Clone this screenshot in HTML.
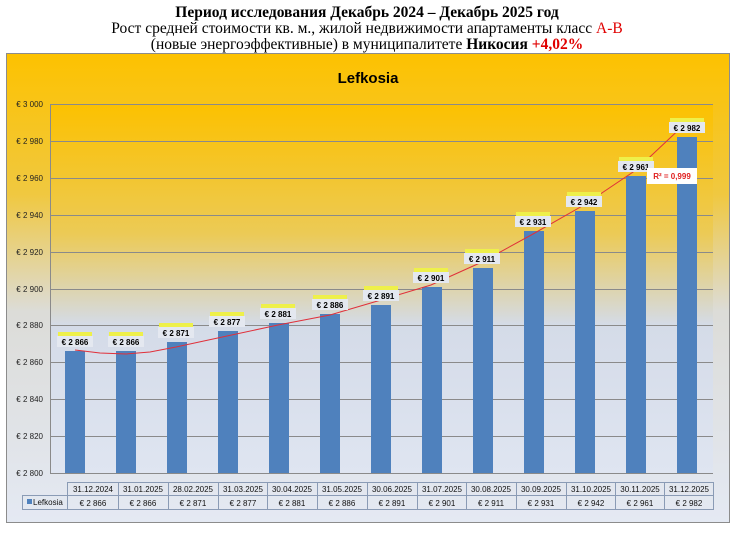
<!DOCTYPE html>
<html><head><meta charset="utf-8"><style>
body{margin:0;background:#fff;width:736px;height:538px;overflow:hidden}
svg{display:block}
</style></head><body>
<svg width="736" height="538" xmlns="http://www.w3.org/2000/svg">
<defs>
<linearGradient id="bg" x1="0" y1="0" x2="0" y2="1">
<stop offset="0" stop-color="#fdc200"/>
<stop offset="0.3" stop-color="#f0c840"/>
<stop offset="0.55" stop-color="#dcdcd8"/>
<stop offset="1" stop-color="#e4e9f3"/>
</linearGradient>
<linearGradient id="pl" x1="0" y1="0" x2="0" y2="1">
<stop offset="0" stop-color="#fcc100"/>
<stop offset="0.35" stop-color="#ecca55"/>
<stop offset="0.6" stop-color="#d4dbe8"/>
<stop offset="1" stop-color="#dfe5f1"/>
</linearGradient>
</defs>
<g font-family="Liberation Serif, serif" font-size="15.5" text-anchor="middle" fill="#000">
<text x="367" y="17" font-weight="bold">Период исследования Декабрь 2024 – Декабрь 2025 год</text>
<text x="367" y="33">Рост средней стоимости кв. м., жилой недвижимости апартаменты класс <tspan fill="#e00000">А-В</tspan></text>
<text x="367" y="49">(новые энергоэффективные) в муниципалитете <tspan font-weight="bold">Никосия</tspan>  <tspan fill="#e00000" font-weight="bold">+4,02%</tspan></text>
</g>
<rect x="6.5" y="53.5" width="723" height="469" fill="url(#bg)" stroke="#8c8c8c"/>
<text x="368" y="83" font-family="Liberation Sans, sans-serif" font-size="15" font-weight="bold" text-anchor="middle">Lefkosia</text>
<rect x="50" y="104" width="663" height="369" fill="url(#pl)"/>
<g stroke="#8a8a8a" stroke-width="1">
<line x1="50" y1="104.5" x2="713" y2="104.5"/><line x1="50" y1="141.5" x2="713" y2="141.5"/>
<line x1="50" y1="178.5" x2="713" y2="178.5"/><line x1="50" y1="215.5" x2="713" y2="215.5"/>
<line x1="50" y1="252.5" x2="713" y2="252.5"/><line x1="50" y1="289.5" x2="713" y2="289.5"/>
<line x1="50" y1="325.5" x2="713" y2="325.5"/><line x1="50" y1="362.5" x2="713" y2="362.5"/>
<line x1="50" y1="399.5" x2="713" y2="399.5"/><line x1="50" y1="436.5" x2="713" y2="436.5"/>
<line x1="50" y1="473.5" x2="713" y2="473.5"/><line x1="50.5" y1="104" x2="50.5" y2="473"/>
</g>
<g font-family="Liberation Sans, sans-serif" font-size="8" text-anchor="end" fill="#222">
<text x="43" y="107">€ 3 000</text><text x="43" y="144">€ 2 980</text><text x="43" y="181">€ 2 960</text>
<text x="43" y="218">€ 2 940</text><text x="43" y="255">€ 2 920</text><text x="43" y="292">€ 2 900</text>
<text x="43" y="328">€ 2 880</text><text x="43" y="365">€ 2 860</text><text x="43" y="402">€ 2 840</text>
<text x="43" y="439">€ 2 820</text><text x="43" y="476">€ 2 800</text>
</g>
<g fill="#4f81bd">
<rect x="65" y="351" width="20" height="122"/><rect x="116" y="351" width="20" height="122"/>
<rect x="167" y="342" width="20" height="131"/><rect x="218" y="331" width="20" height="142"/>
<rect x="269" y="323" width="20" height="150"/><rect x="320" y="314" width="20" height="159"/>
<rect x="371" y="305" width="20" height="168"/><rect x="422" y="287" width="20" height="186"/>
<rect x="473" y="268" width="20" height="205"/><rect x="524" y="231" width="20" height="242"/>
<rect x="575" y="211" width="20" height="262"/><rect x="626" y="176" width="20" height="297"/>
<rect x="677" y="137" width="20" height="336"/>
</g>
<polyline fill="none" stroke="#e0303a" stroke-width="1" points="75,350 100,353 126,354 150,352 176,347 227,336 278,325 330,315 381,300 431,285 482,262 533,234 584,205 636,170 687,122"/>
<g font-family="Liberation Sans, sans-serif" font-size="8" font-weight="bold" text-anchor="middle">
<g transform="translate(75,351)"><rect x="-17" y="-19" width="34" height="5" fill="#eef04a"/><rect x="-18" y="-15" width="36" height="11" fill="#e4e8f0"/><text y="-6">€ 2 866</text></g>
<g transform="translate(126,351)"><rect x="-17" y="-19" width="34" height="5" fill="#eef04a"/><rect x="-18" y="-15" width="36" height="11" fill="#e4e8f0"/><text y="-6">€ 2 866</text></g>
<g transform="translate(176,342)"><rect x="-17" y="-19" width="34" height="5" fill="#eef04a"/><rect x="-18" y="-15" width="36" height="11" fill="#e4e8f0"/><text y="-6">€ 2 871</text></g>
<g transform="translate(227,331)"><rect x="-17" y="-19" width="34" height="5" fill="#eef04a"/><rect x="-18" y="-15" width="36" height="11" fill="#e4e8f0"/><text y="-6">€ 2 877</text></g>
<g transform="translate(278,323)"><rect x="-17" y="-19" width="34" height="5" fill="#eef04a"/><rect x="-18" y="-15" width="36" height="11" fill="#e4e8f0"/><text y="-6">€ 2 881</text></g>
<g transform="translate(330,314)"><rect x="-17" y="-19" width="34" height="5" fill="#eef04a"/><rect x="-18" y="-15" width="36" height="11" fill="#e4e8f0"/><text y="-6">€ 2 886</text></g>
<g transform="translate(381,305)"><rect x="-17" y="-19" width="34" height="5" fill="#eef04a"/><rect x="-18" y="-15" width="36" height="11" fill="#e4e8f0"/><text y="-6">€ 2 891</text></g>
<g transform="translate(431,287)"><rect x="-17" y="-19" width="34" height="5" fill="#eef04a"/><rect x="-18" y="-15" width="36" height="11" fill="#e4e8f0"/><text y="-6">€ 2 901</text></g>
<g transform="translate(482,268)"><rect x="-17" y="-19" width="34" height="5" fill="#eef04a"/><rect x="-18" y="-15" width="36" height="11" fill="#e4e8f0"/><text y="-6">€ 2 911</text></g>
<g transform="translate(533,231)"><rect x="-17" y="-19" width="34" height="5" fill="#eef04a"/><rect x="-18" y="-15" width="36" height="11" fill="#e4e8f0"/><text y="-6">€ 2 931</text></g>
<g transform="translate(584,211)"><rect x="-17" y="-19" width="34" height="5" fill="#eef04a"/><rect x="-18" y="-15" width="36" height="11" fill="#e4e8f0"/><text y="-6">€ 2 942</text></g>
<g transform="translate(636,176)"><rect x="-17" y="-19" width="34" height="5" fill="#eef04a"/><rect x="-18" y="-15" width="36" height="11" fill="#e4e8f0"/><text y="-6">€ 2 961</text></g>
<g transform="translate(687,137)"><rect x="-17" y="-19" width="34" height="5" fill="#eef04a"/><rect x="-18" y="-15" width="36" height="11" fill="#e4e8f0"/><text y="-6">€ 2 982</text></g>
<rect x="647" y="168" width="50" height="16" fill="#fff"/>
<text x="672" y="179" fill="#e02020" font-size="8">R² = 0,999</text>
</g>
<g stroke="#8a9bb5" fill="none" stroke-width="1">
<rect x="67.5" y="482.5" width="646" height="13"/>
<rect x="22.5" y="495.5" width="691" height="14"/>
<line x1="67.5" y1="495" x2="67.5" y2="510"/>
<path d="M118.5 482v28M168.5 482v28M218.5 482v28M267.5 482v28M317.5 482v28M367.5 482v28M417.5 482v28M466.5 482v28M516.5 482v28M566.5 482v28M615.5 482v28M664.5 482v28"/>
</g>
<rect x="27" y="499" width="5" height="5" fill="#4f81bd"/>
<text x="33" y="505" font-family="Liberation Sans, sans-serif" font-size="8" fill="#111">Lefkosia</text>
<g font-family="Liberation Sans, sans-serif" font-size="8" fill="#111" text-anchor="middle">
<text x="93" y="492">31.12.2024</text><text x="143" y="492">31.01.2025</text><text x="193" y="492">28.02.2025</text>
<text x="243" y="492">31.03.2025</text><text x="292" y="492">30.04.2025</text><text x="342" y="492">31.05.2025</text>
<text x="392" y="492">30.06.2025</text><text x="442" y="492">31.07.2025</text><text x="491" y="492">30.08.2025</text>
<text x="541" y="492">30.09.2025</text><text x="591" y="492">31.10.2025</text><text x="640" y="492">30.11.2025</text>
<text x="689" y="492">31.12.2025</text>
<text x="93" y="506">€ 2 866</text><text x="143" y="506">€ 2 866</text><text x="193" y="506">€ 2 871</text>
<text x="243" y="506">€ 2 877</text><text x="292" y="506">€ 2 881</text><text x="342" y="506">€ 2 886</text>
<text x="392" y="506">€ 2 891</text><text x="442" y="506">€ 2 901</text><text x="491" y="506">€ 2 911</text>
<text x="541" y="506">€ 2 931</text><text x="591" y="506">€ 2 942</text><text x="640" y="506">€ 2 961</text>
<text x="689" y="506">€ 2 982</text>
</g>
</svg>
</body></html>
